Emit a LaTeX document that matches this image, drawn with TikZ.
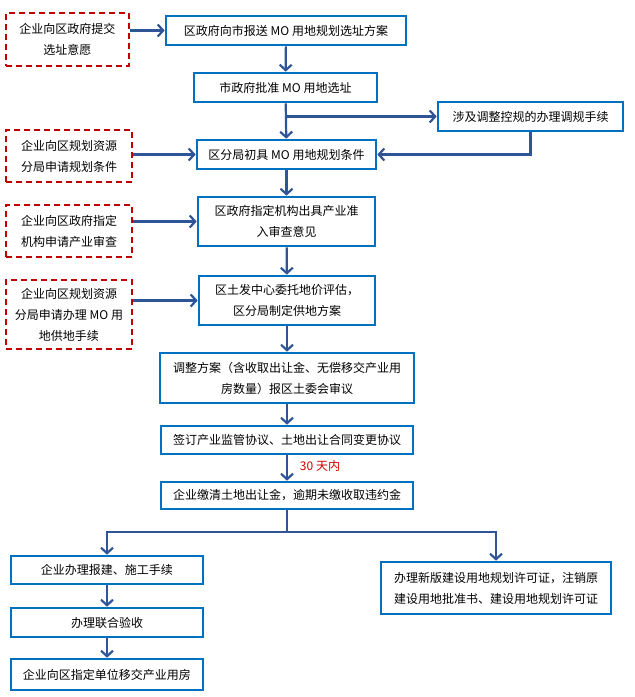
\documentclass[tikz,border=0pt]{standalone}
\usepackage{fontspec}
\setmainfont{Noto Sans CJK SC}
\usepackage{tikz}
\usetikzlibrary{arrows.meta}
\usetikzlibrary{positioning}
\definecolor{boxblue}{RGB}{0,112,192}
\definecolor{flowblue}{RGB}{47,85,151}
\definecolor{askred}{RGB}{192,0,0}
\definecolor{daysred}{RGB}{210,0,0}
\begin{document}
\begin{tikzpicture}[x=1pt, y=-1pt,
    every node/.style={font=\fontsize{12}{21}\selectfont, align=center, inner sep=0pt},
    stepbox/.style={draw=boxblue, line width=2.6pt, fill=white},
    askbox/.style={draw=askred, line width=2.6pt, dash pattern=on 6pt off 4pt, fill=white},
    flow/.style={draw=flowblue, line width=2.2pt, -{Straight Barb[length=5.5pt, width=12pt]}}]
    \useasboundingbox (0, 0) rectangle (635, 697);
    \node[askbox, minimum width=123, minimum height=53] (intent) at (67.5, 39.5) {企业向区政府提交\\选址意愿};
    \node[stepbox, minimum width=240, minimum height=29] (submit) at (286, 30.5) {区政府向市报送 MO 用地规划选址方案};
    \node[stepbox, minimum width=183, minimum height=29] (approve) at (285.5, 87.5) {市政府批准 MO 用地选址};
    \node[stepbox, minimum width=185, minimum height=29] (adjust) at (530.5, 116.5) {涉及调整控规的办理调规手续};
    \node[askbox, minimum width=126, minimum height=52] (askcond) at (69, 156) {企业向区规划资源\\分局申请规划条件};
    \node[stepbox, minimum width=179, minimum height=29] (cond) at (286.5, 154.5) {区分局初具 MO 用地规划条件};
    \node[askbox, minimum width=126, minimum height=52] (askreview) at (69, 231) {企业向区政府指定\\机构申请产业审查};
    \node[stepbox, minimum width=177, minimum height=49] (review) at (286.5, 221.5) {区政府指定机构出具产业准\\入审查意见};
    \node[askbox, minimum width=126, minimum height=69] (asksupply) at (69, 314.5) {企业向区规划资源\\分局申请办理 MO 用\\地供地手续};
    \node[stepbox, minimum width=176, minimum height=49] (supply) at (287, 300.5) {区土发中心委托地价评估，\\区分局制定供地方案};
    \node[stepbox, minimum width=254, minimum height=50] (scheme) at (287, 378) {调整方案（含收取出让金、无偿移交产业用\\房数量）报区土委会审议};
    \node[stepbox, minimum width=252, minimum height=28] (sign) at (287, 440) {签订产业监管协议、土地出让合同变更协议};
    \node[stepbox, minimum width=252, minimum height=27] (pay) at (287, 495.5) {企业缴清土地出让金，逾期未缴收取违约金};
    \node[text=daysred] (days) at (320, 466) {30 天内};
    \coordinate (split) at (287, 532);
    \node[stepbox, minimum width=192, minimum height=28] (build) at (107, 570) {企业办理报建、施工手续};
    \node[stepbox, minimum width=192, minimum height=29] (accept) at (107, 622.5) {办理联合验收};
    \node[stepbox, minimum width=192, minimum height=31] (handover) at (107, 674.5) {企业向区指定单位移交产业用房};
    \node[stepbox, minimum width=230, minimum height=52] (permit) at (496, 588) {办理新版建设用地规划许可证，注销原\\建设用地批准书、建设用地规划许可证};
    \draw[flow] (intent.east |- submit.west) -- (submit.west);
    \draw[flow] (submit) -- (approve);
    \draw[flow] (approve) -- (cond);
    \draw[flow] (approve.south |- adjust.west) -- (adjust.west);
    \draw[flow] (adjust.south) |- (cond.east);
    \draw[flow] (askcond.east |- cond.west) -- (cond.west);
    \draw[flow] (cond) -- (review);
    \draw[flow] (askreview.east |- review.west) -- (review.west);
    \draw[flow] (review) -- (supply);
    \draw[flow] (asksupply.east |- supply.west) -- (supply.west);
    \draw[flow] (supply) -- (scheme);
    \draw[flow] (scheme) -- (sign);
    \draw[flow] (sign) -- (pay);
    \draw[flow, -] (pay) -- (split);
    \draw[flow] (split) -| (build.north);
    \draw[flow] (split) -| (permit.north);
    \draw[flow] (build) -- (accept);
    \draw[flow] (accept) -- (handover);
\end{tikzpicture}
\end{document}
